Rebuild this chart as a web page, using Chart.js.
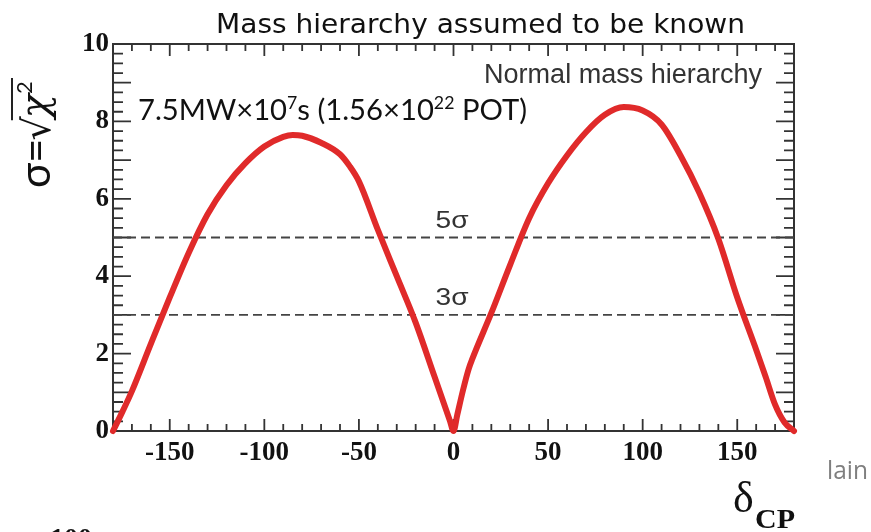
<!DOCTYPE html>
<html><head><meta charset="utf-8">
<script src="https://cdn.jsdelivr.net/npm/chart.js@4.4.1/dist/chart.umd.min.js"></script>
<style>html,body{margin:0;padding:0;background:#fff}#wrap{width:871px;height:532px;position:relative;overflow:hidden}</style>
</head><body><div id="wrap"><canvas id="c" width="871" height="532"></canvas></div>
<script>
// ---- data ----
const deltaCP = [-180,-175,-170,-160,-150,-140,-130,-120,-110,-100,-90,-85,-80,-70,-60,-55,-50,-40,-30,-20,-10,-2,0,2,5,8,10,20,30,40,50,60,70,80,90,100,110,120,130,140,150,160,165,170,175,180];
const sigma   = [0,0.5,1.03,2.25,3.45,4.6,5.6,6.35,6.92,7.35,7.6,7.65,7.63,7.45,7.15,6.85,6.45,5.2,4.0,2.8,1.4,0.28,0,0.42,1.05,1.6,1.87,3.05,4.3,5.5,6.4,7.12,7.72,8.17,8.37,8.28,7.92,7.12,6.15,4.97,3.45,2.1,1.4,0.68,0.22,0];
const sigmaLevels = [5, 3];
const levelLabels = ['5σ', '3σ'];
const xTickValues = [-150,-100,-50,0,50,100,150];
const yTickValues = [0,2,4,6,8,10];
const titleText = 'Mass hierarchy assumed to be known';
const hierarchyText = 'Normal mass hierarchy';

const X_MIN = -180, X_MAX = 180, Y_MIN = 0, Y_MAX = 10;

const curve = deltaCP.map((x, i) => ({x: x, y: sigma[i]}));
const levelSets = sigmaLevels.map(l => ({
  data: [{x: X_MIN, y: l}, {x: X_MAX, y: l}],
  borderColor: '#444', borderWidth: 1.8, borderDash: [9, 5], pointRadius: 0, order: 2, clip: false
}));

function fitText(ctx, text, x, y, font, width, color) {
  ctx.save();
  ctx.font = font; ctx.fillStyle = color; ctx.textAlign = 'left'; ctx.textBaseline = 'alphabetic';
  const w = ctx.measureText(text).width;
  ctx.translate(x, y); ctx.scale(width / w, 1);
  ctx.fillText(text, 0, 0);
  ctx.restore();
}
// pieces: [text, font, dy]
function fitPieces(ctx, pieces, x, y, width, color) {
  ctx.save();
  ctx.fillStyle = color; ctx.textAlign = 'left'; ctx.textBaseline = 'alphabetic';
  let total = 0;
  const ws = pieces.map(p => { ctx.font = p[1]; const w = ctx.measureText(p[0]).width; total += w; return w; });
  const s = width / total;
  ctx.translate(x, y); ctx.scale(s, 1);
  let cx = 0;
  pieces.forEach((p, i) => { ctx.font = p[1]; ctx.fillText(p[0], cx, p[2]); cx += ws[i]; });
  ctx.restore();
}

const framePlugin = {
  id: 'frame',
  beforeDatasetsDraw(chart) {
    const ctx = chart.ctx, a = chart.chartArea;
    const xs = chart.scales.x, ys = chart.scales.y;
    ctx.save();
    ctx.strokeStyle = '#333'; ctx.lineWidth = 2;
    ctx.strokeRect(a.left, a.top, a.right - a.left, a.bottom - a.top);
    ctx.lineWidth = 1.8;
    ctx.beginPath();
    for (let v = -170; v <= 170; v += 10) {
      const px = xs.getPixelForValue(v);
      const len = (v % 50 === 0) ? 12 : 7;
      ctx.moveTo(px, a.bottom); ctx.lineTo(px, a.bottom - len);
      ctx.moveTo(px, a.top); ctx.lineTo(px, a.top + len);
    }
    for (let k = 1; k < 40; k++) {
      const v = k * 0.25;
      const py = ys.getPixelForValue(v);
      const len = (k % 4 === 0) ? 18 : 10;
      ctx.moveTo(a.left, py); ctx.lineTo(a.left + len, py);
      ctx.moveTo(a.right, py); ctx.lineTo(a.right - len, py);
    }
    ctx.stroke();
    ctx.restore();
  },
  afterDraw(chart) {
    const ctx = chart.ctx;
    const xs = chart.scales.x, ys = chart.scales.y;
    // title
    fitText(ctx, titleText, 216, 33, '27px "DejaVu Sans"', 529, '#111');
    // normal mass hierarchy
    fitText(ctx, hierarchyText, 484, 83, '27px "Liberation Sans"', 278, '#333');
    // exposure
    const f = '28px Lato', fs = '17px Lato';
    fitPieces(ctx, [['7.5MW×10', f, 0], ['7', fs, -11], ['s (1.56×10', f, 0], ['22', fs, -11], [' POT)', f, 0]], 138, 120, 389, '#111');
    // sigma level labels
    sigmaLevels.forEach((l, i) => {
      const py = ys.getPixelForValue(l);
      fitText(ctx, levelLabels[i], xs.getPixelForValue(0) - 18, py - 10, '24px "Liberation Sans"', 33, '#333');
    });
    // y axis title (rotated)
    ctx.save();
    ctx.translate(50, 188);
    ctx.rotate(-Math.PI / 2);
    ctx.fillStyle = '#111'; ctx.strokeStyle = '#222';
    ctx.textBaseline = 'alphabetic';
    ctx.font = '42px Lato';
    const w1 = ctx.measureText('σ=').width;
    ctx.fillText('σ=', 0, 0);
    ctx.font = '38px "DejaVu Sans"';
    const w2 = ctx.measureText('√').width;
    ctx.fillText('√', w1 - 2, 0);
    ctx.font = 'italic 40px "DejaVu Serif"';
    const w3 = ctx.measureText('χ').width;
    ctx.fillText('χ', w1 + w2 - 4, -2);
    ctx.font = '22px Lato';
    ctx.fillText('2', w1 + w2 + w3 - 4, -18);
    ctx.lineWidth = 2;
    ctx.beginPath();
    ctx.moveTo(w1 + w2 - 6, -38); ctx.lineTo(110, -38);
    ctx.stroke();
    ctx.restore();
    // x axis title
    ctx.save();
    ctx.fillStyle = '#111';
    ctx.font = '44px "Liberation Serif"';
    ctx.fillText('δ', 733, 512);
    ctx.restore();
    fitText(ctx, 'CP', 755, 528, 'bold 27px "Liberation Serif"', 40, '#111');
    // stray slide text
    fitText(ctx, 'lain', 827, 479, '26px "Open Sans"', 41, '#7f7f7f');
    fitText(ctx, '100', 50, 547, 'bold 27px "Liberation Serif"', 42, '#111');
  }
};

new Chart(document.getElementById('c'), {
  type: 'line',
  data: {
    datasets: [{
      data: curve, borderColor: '#e02a2a', borderWidth: 6, pointRadius: 0,
      cubicInterpolationMode: 'monotone', order: 1, clip: false, borderCapStyle: 'round', borderJoinStyle: 'round'
    }, ...levelSets]
  },
  options: {
    responsive: false, animation: false,
    layout: {padding: {top: 44, right: 77, left: 0, bottom: 0}},
    plugins: {legend: {display: false}, tooltip: {enabled: false}, title: {display: false}},
    scales: {
      x: {
        type: 'linear', min: X_MIN, max: X_MAX,
        grid: {display: false, drawTicks: false}, border: {display: false},
        afterFit(s) { s.height = 101; },
        afterBuildTicks(s) { s.ticks = xTickValues.map(v => ({value: v})); },
        ticks: {padding: 6, maxRotation: 0, autoSkip: false, color: '#111',
          font: {family: '"Liberation Serif"', size: 27, weight: 'bold'},
          callback: v => String(v)}
      },
      y: {
        type: 'linear', min: Y_MIN, max: Y_MAX,
        grid: {display: false, drawTicks: false}, border: {display: false},
        afterFit(s) { s.width = 113; },
        afterBuildTicks(s) { s.ticks = yTickValues.map(v => ({value: v})); },
        ticks: {padding: 4, autoSkip: false, color: '#111',
          font: {family: '"Liberation Serif"', size: 27, weight: 'bold'},
          callback: v => String(v)}
      }
    }
  },
  plugins: [framePlugin]
});
</script></body></html>
